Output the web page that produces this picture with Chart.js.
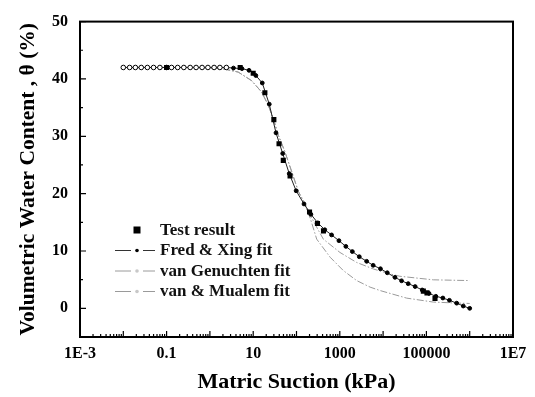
<!DOCTYPE html>
<html><head><meta charset="utf-8">
<script src="https://cdn.jsdelivr.net/npm/chart.js@4/dist/chart.umd.min.js"></script>
<style>html,body{margin:0;padding:0;background:#fff;}</style>
</head><body>
<canvas id="c" width="535" height="397"></canvas>
<script>
// ---- data ----
const testSuction = [0.1, 5, 10, 18.6, 30, 39.5, 49.5, 71, 200, 305, 420, 85000, 103000, 158000];
const testTheta   = [42, 42, 41, 37.6, 32.9, 28.7, 25.8, 23.1, 16.8, 14.8, 13.5, 3.0, 2.7, 1.7];

const fredSuction = [0.01,0.014,0.019,0.026,0.036,0.05,0.07,0.1,0.13,0.18,0.25,0.35,0.48,0.66,0.9,1.25,1.7,2.4,3.5,5.5,8,11.5,16.2,23.5,33.6,48,68,98,149,215,310,450,646,955,1380,1950,2820,4170,5900,8700,12500,18800,26700,38000,55000,80000,115000,165000,240000,340000,500000,710000,1000000];
const fredTheta   = [42,42,42,42,42,42,42,42,42,42,42,42,42,42,42,42,42,42,41.9,41.8,41.5,40.6,39.3,35.6,30.6,27.0,23.5,20.5,18.2,16.4,14.9,13.7,12.8,11.8,10.8,9.9,9.0,8.2,7.5,6.9,6.2,5.4,4.8,4.3,3.8,3.2,2.6,2.1,1.8,1.4,0.9,0.4,0];

const vgSuction = [0.01,0.5,1.2,2.23,4.5,9.2,15.7,22.3,29.1,38,54,77,110,157,210,300,417,1010,2450,5900,14400,24500,144000,1000000];
const vgTheta   = [42,42,41.9,41.7,41.2,39.7,37.7,35.4,33.1,30.2,27.3,23.9,20.4,18.3,16.2,14.0,12.06,9.74,8.0,6.87,6.0,5.59,4.97,4.84];

const vmSuction = [0.01,0.5,1.2,2.23,4.5,9.2,15.7,22.3,29.1,38,54,77,110,157,210,293,600,1200,2450,5000,8500,35000,144000,500000,1000000];
const vmTheta   = [42,42,41.9,41.7,41.2,39.7,37.7,35.4,33.1,30.2,27.3,23.9,20.4,18.0,15.6,12.06,8.9,6.6,4.84,3.7,3.1,1.78,1.09,0.92,0.85];

const seriesNames = ['Test result', 'Fred & Xing fit', 'van Genuchten fit', 'van & Mualem fit'];
const xTickValues = [0.001, 0.1, 10, 1000, 100000, 10000000];
const xTickLabels = ['1E-3', '0.1', '10', '1000', '100000', '1E7'];
const yTickValues = [0, 10, 20, 30, 40, 50];

const pts = (xs, ys) => xs.map((x, i) => ({x, y: ys[i]}));
const FONT = '"Liberation Serif", "Times New Roman", serif';
const GREY = '#9a9a9a';

// ---- inward ticks + frame ----
const framePlugin = {
  id: 'frame',
  afterDraw(chart) {
    const {ctx, chartArea: a, scales} = chart;
    const xs = scales.x, ys = scales.y;
    ctx.save();
    ctx.strokeStyle = '#000';
    ctx.lineWidth = 1.2;
    ctx.beginPath();
    for (let e = -3; e <= 7; e++) {
      const px = xs.getPixelForValue(Math.pow(10, e));
      ctx.moveTo(px, a.bottom); ctx.lineTo(px, a.bottom - 6);
      if (e < 7) {
        for (let m = 2; m <= 9; m++) {
          const mx = xs.getPixelForValue(m * Math.pow(10, e));
          ctx.moveTo(mx, a.bottom); ctx.lineTo(mx, a.bottom - 3);
        }
      }
    }
    for (let v = -5; v <= 50; v += 5) {
      const py = ys.getPixelForValue(v);
      const len = (v % 10 === 0) ? 6 : 3;
      ctx.moveTo(a.left, py); ctx.lineTo(a.left + len, py);
    }
    ctx.stroke();
    ctx.lineWidth = 2;
    ctx.strokeRect(a.left, a.top, a.right - a.left, a.bottom - a.top);
    ctx.restore();
  }
};

// ---- legend inside the plot ----
const legendPlugin = {
  id: 'insideLegend',
  afterDraw(chart) {
    const ctx = chart.ctx;
    const x0 = 115, x1 = 155, xc = 137, tx = 160, y0 = 230, dy = 20.5;
    ctx.save();
    ctx.font = 'bold 17px ' + FONT;
    ctx.textBaseline = 'middle';
    ctx.textAlign = 'left';
    chart.data.datasets.forEach((ds, i) => {
      const y = y0 + i * dy;
      if (i === 0) {
        ctx.fillStyle = '#000';
        ctx.fillRect(xc - 3.5, y - 3.5, 7, 7);
      } else {
        const col = i === 1 ? '#333' : GREY;
        ctx.strokeStyle = col; ctx.lineWidth = 1;
        ctx.beginPath();
        ctx.moveTo(x0, y); ctx.lineTo(xc - 6, y);
        ctx.moveTo(xc + 6, y); ctx.lineTo(x1, y);
        ctx.stroke();
        ctx.fillStyle = i === 1 ? '#000' : '#c8c8c8';
        ctx.beginPath(); ctx.arc(xc, y, 1.8, 0, Math.PI * 2); ctx.fill();
      }
      ctx.fillStyle = '#111';
      ctx.fillText(ds.label, tx, y + 0.5);
    });
    ctx.restore();
  }
};

new Chart(document.getElementById('c'), {
  type: 'scatter',
  data: {
    datasets: [
      { label: seriesNames[0], data: pts(testSuction, testTheta), showLine: false,
        pointStyle: 'rect', pointRadius: 3.6, backgroundColor: '#000', borderColor: '#000', borderWidth: 0 },
      { label: seriesNames[1], data: pts(fredSuction, fredTheta), showLine: true,
        borderColor: '#222', borderWidth: 1, pointRadius: c => (c.raw && c.raw.x < 3) ? 2.3 : 1.9,
        pointBackgroundColor: c => (c.raw && c.raw.x < 3) ? '#fff' : '#000',
        pointBorderColor: '#000', pointBorderWidth: 1 },
      { label: seriesNames[2], data: pts(vgSuction, vgTheta), showLine: true,
        borderColor: GREY, borderWidth: 1, borderDash: [7, 2, 1.5, 2], pointRadius: 0 },
      { label: seriesNames[3], data: pts(vmSuction, vmTheta), showLine: true,
        borderColor: GREY, borderWidth: 1, borderDash: [7, 2, 1.5, 2], pointRadius: 0 }
    ]
  },
  options: {
    responsive: false,
    animation: false,
    layout: { padding: { top: 19, right: 22, left: 0, bottom: 0 } },
    plugins: { legend: { display: false }, tooltip: { enabled: false } },
    scales: {
      x: {
        type: 'logarithmic', min: 0.001, max: 10000000,
        grid: { display: false, drawTicks: false },
        border: { display: false },
        afterBuildTicks: s => { s.ticks = xTickValues.map(v => ({value: v})); },
        afterFit: s => { s.height = 60; },
        ticks: { autoSkip: false, maxRotation: 0, padding: 7, color: '#000',
          font: { family: FONT, size: 16, weight: 'bold' },
          callback: (v) => { const i = xTickValues.indexOf(v); return i >= 0 ? xTickLabels[i] : ''; } },
        title: { display: true, text: 'Matric Suction (kPa)', color: '#000',
          font: { family: FONT, size: 22, weight: 'bold' }, padding: { top: 0, bottom: 1.5 } }
      },
      y: {
        type: 'linear', min: -5, max: 50,
        grid: { display: false, drawTicks: false },
        border: { display: false },
        afterBuildTicks: s => { s.ticks = yTickValues.map(v => ({value: v})); },
        afterFit: s => { s.width = 80; },
        ticks: { padding: 12, color: '#000', font: { family: FONT, size: 16, weight: 'bold' } },
        title: { display: true, text: 'Volumetric Water Content , θ (%)', color: '#000',
          font: { family: FONT, size: 21.5, weight: 'bold' }, padding: { top: 16, bottom: 0 } }
      }
    }
  },
  plugins: [framePlugin, legendPlugin]
});
</script>
</body></html>
